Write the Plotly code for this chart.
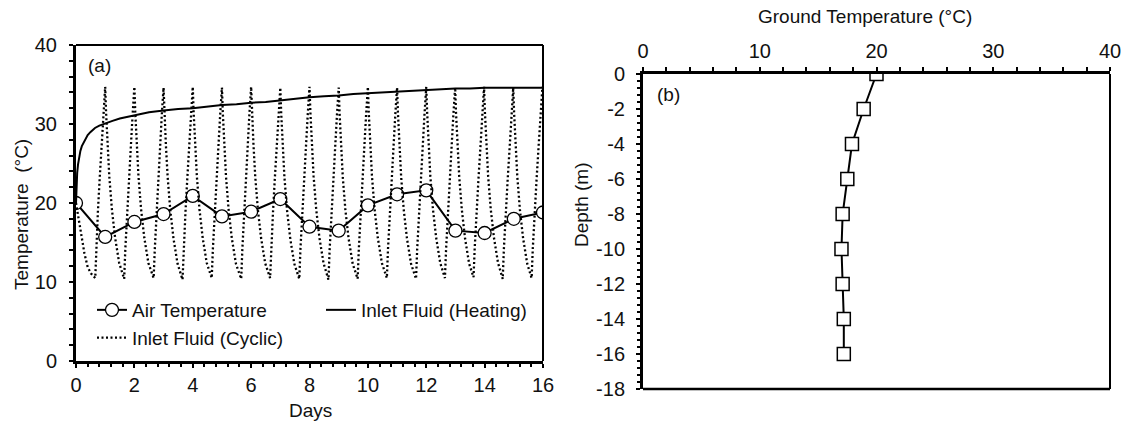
import plotly.graph_objects as go

W, H = 1128, 429

# ---------------- data (a) ----------------
air_days = list(range(17))
air_temp = [20.0, 15.7, 17.6, 18.6, 20.9, 18.3, 18.9, 20.5, 17.0, 16.5, 19.7, 21.1, 21.6, 16.5, 16.2, 18.0, 18.8]

heat_days = [0, 0.02, 0.04, 0.07, 0.1, 0.15, 0.2, 0.3, 0.4, 0.5, 0.65, 0.8, 1.0, 1.25, 1.5, 1.75, 2.0,
             2.5, 3.0, 3.5, 4.0, 4.5, 5.0, 5.5, 6.0, 6.5, 7.0, 7.5, 8.0, 8.5, 9.0, 9.5, 10.0, 10.5,
             11.0, 11.5, 12.0, 12.5, 13.0, 13.5, 14.0, 14.5, 15.0, 15.5, 16.0]
heat_temp = [20.0, 22.5, 23.8, 24.9, 25.7, 26.6, 27.2, 28.0, 28.6, 29.0, 29.5, 29.8, 30.1, 30.4, 30.7, 30.9, 31.1,
             31.5, 31.7, 31.9, 32.0, 32.2, 32.4, 32.5, 32.7, 32.8, 33.0, 33.2, 33.4, 33.5, 33.6, 33.8, 33.9, 34.0,
             34.1, 34.2, 34.3, 34.4, 34.5, 34.5, 34.6, 34.6, 34.6, 34.6, 34.6]

cyc_days = [
    0.00, 0.05, 0.11, 0.17, 0.29, 0.40, 0.51, 0.66, 0.69, 0.75, 0.81, 0.88, 0.94, 1.00,
    1.03, 1.08, 1.14, 1.23, 1.34, 1.48, 1.65, 1.69, 1.75, 1.81, 1.88, 1.94, 2.00,
    2.03, 2.08, 2.14, 2.23, 2.34, 2.48, 2.66, 2.70, 2.76, 2.82, 2.88, 2.94, 3.00,
    3.03, 3.08, 3.14, 3.23, 3.34, 3.48, 3.65, 3.69, 3.75, 3.81, 3.88, 3.94, 4.00,
    4.03, 4.08, 4.14, 4.23, 4.34, 4.48, 4.65, 4.69, 4.75, 4.81, 4.88, 4.94, 5.00,
    5.03, 5.08, 5.14, 5.23, 5.34, 5.48, 5.66, 5.70, 5.76, 5.82, 5.88, 5.94, 6.00,
    6.03, 6.08, 6.14, 6.23, 6.34, 6.48, 6.65, 6.69, 6.75, 6.81, 6.88, 6.94, 7.00,
    7.03, 7.08, 7.14, 7.23, 7.34, 7.48, 7.65, 7.69, 7.75, 7.81, 7.88, 7.94, 8.00,
    8.03, 8.08, 8.14, 8.23, 8.34, 8.48, 8.65, 8.69, 8.75, 8.81, 8.88, 8.94, 9.00,
    9.03, 9.08, 9.14, 9.23, 9.34, 9.48, 9.65, 9.69, 9.75, 9.81, 9.88, 9.94, 10.00,
    10.03, 10.08, 10.14, 10.23, 10.34, 10.48, 10.65, 10.69, 10.75, 10.81, 10.88, 10.94, 11.00,
    11.03, 11.08, 11.14, 11.23, 11.34, 11.48, 11.65, 11.69, 11.75, 11.81, 11.88, 11.94, 12.00,
    12.03, 12.08, 12.14, 12.23, 12.34, 12.48, 12.64, 12.68, 12.74, 12.80, 12.87, 12.93, 12.99,
    13.02, 13.07, 13.13, 13.22, 13.33, 13.47, 13.62, 13.66, 13.72, 13.79, 13.86, 13.92, 13.98,
    14.01, 14.06, 14.12, 14.21, 14.32, 14.46, 14.62, 14.66, 14.72, 14.79, 14.86, 14.92, 14.98,
    15.01, 15.06, 15.12, 15.21, 15.32, 15.46, 15.61, 15.65, 15.71, 15.78, 15.85, 15.92, 15.98,
]
cyc_temp = [
    20.0, 18.9, 17.6, 15.8, 13.6, 11.9, 11.1, 10.5, 14.2, 18.9, 23.0, 27.2, 31.2, 34.7,
    31.5, 27.4, 23.4, 19.2, 15.6, 12.4, 10.4, 14.2, 18.9, 23.0, 27.2, 31.2, 34.7,
    31.5, 27.4, 23.4, 19.2, 15.6, 12.4, 10.5, 14.2, 18.9, 23.0, 27.2, 31.2, 34.6,
    31.4, 27.3, 23.3, 19.1, 15.5, 12.3, 10.3, 14.1, 18.8, 22.9, 27.1, 31.1, 34.7,
    31.5, 27.4, 23.4, 19.2, 15.6, 12.4, 10.5, 14.2, 18.9, 23.0, 27.2, 31.2, 34.6,
    31.4, 27.3, 23.3, 19.1, 15.5, 12.3, 10.4, 14.2, 18.9, 23.0, 27.2, 31.2, 34.7,
    31.5, 27.4, 23.4, 19.2, 15.6, 12.4, 10.5, 14.2, 18.9, 23.0, 27.2, 31.2, 34.6,
    31.4, 27.3, 23.3, 19.1, 15.5, 12.3, 10.4, 14.2, 18.9, 23.0, 27.2, 31.2, 34.7,
    31.5, 27.4, 23.4, 19.2, 15.6, 12.4, 10.3, 14.1, 18.8, 22.9, 27.1, 31.1, 34.6,
    31.4, 27.3, 23.3, 19.1, 15.5, 12.3, 10.4, 14.2, 18.9, 23.0, 27.2, 31.2, 34.7,
    31.5, 27.4, 23.4, 19.2, 15.6, 12.4, 10.5, 14.2, 18.9, 23.0, 27.2, 31.2, 34.6,
    31.4, 27.3, 23.3, 19.1, 15.5, 12.3, 10.4, 14.2, 18.9, 23.0, 27.2, 31.2, 34.7,
    31.5, 27.4, 23.4, 19.2, 15.6, 12.4, 10.5, 14.2, 18.9, 23.0, 27.2, 31.2, 34.6,
    31.4, 27.3, 23.3, 19.1, 15.5, 12.3, 10.6, 14.3, 19.0, 23.1, 27.3, 31.3, 34.7,
    31.5, 27.4, 23.4, 19.2, 15.6, 12.4, 10.4, 14.2, 18.9, 23.0, 27.2, 31.2, 34.6,
    31.4, 27.3, 23.3, 19.1, 15.5, 12.3, 10.5, 14.2, 18.9, 23.0, 27.2, 31.2, 34.7,
]

# ---------------- data (b) ----------------
depth = [0, -2, -4, -6, -8, -10, -12, -14, -16]
ground_temp = [20.0, 18.9, 17.9, 17.5, 17.1, 17.0, 17.1, 17.2, 17.2]

depth_tickvals = [0, -2, -4, -6, -8, -10, -12, -14, -16, -18]
depth_ticktext = ["0", "-2", "-4", "-6", "-8", "-10", "-12", "-14", "-16", "-18"]

FONT = "Liberation Sans, Arial, sans-serif"
TXT = "#111111"
FS = 19
TFS = 20

fig = go.Figure()
fig.add_trace(go.Scatter(
    x=air_days, y=air_temp, mode="lines+markers", name="Air Temperature",
    line=dict(color="black", width=2),
    marker=dict(symbol="circle", size=13, color="white", line=dict(color="black", width=1.3)),
    legend="legend", xaxis="x", yaxis="y"))
fig.add_trace(go.Scatter(
    x=cyc_days, y=cyc_temp, mode="lines", name="Inlet Fluid (Cyclic)",
    line=dict(color="black", width=2.3, dash="2px,2.5px"),
    legend="legend", xaxis="x", yaxis="y"))
fig.add_trace(go.Scatter(
    x=heat_days, y=heat_temp, mode="lines", name="Inlet Fluid (Heating)",
    line=dict(color="black", width=2),
    legend="legend2", xaxis="x", yaxis="y"))
fig.add_trace(go.Scatter(
    x=ground_temp, y=depth, mode="lines+markers", name="Ground",
    line=dict(color="black", width=2),
    marker=dict(symbol="square", size=13, color="white", line=dict(color="black", width=1.5)),
    showlegend=False, xaxis="x2", yaxis="y2"))

def px_x(p):
    return p / W

def px_y(p):
    return 1 - p / H

tickfont = dict(family=FONT, size=TFS, color=TXT)
common = dict(showgrid=False, zeroline=False, linecolor="black", tickcolor="black",
              tickfont=tickfont, automargin=False)

dom_x1 = [px_x(76), px_x(543)]
dom_y1 = [px_y(361), px_y(45)]
dom_x2 = [px_x(643), px_x(1110)]
dom_y2 = [px_y(389), px_y(74)]

fig.update_layout(
    width=W, height=H, margin=dict(l=0, r=0, t=0, b=0),
    paper_bgcolor="white", plot_bgcolor="white",
    font=dict(family=FONT, size=FS, color=TXT),
    xaxis=dict(domain=dom_x1, range=[0, 16], anchor="y", tick0=0, dtick=2,
               ticks="outside", ticklen=4, tickwidth=2, showline=True, linewidth=3,
               minor=dict(ticks="outside", dtick=0.4, ticklen=3, tickwidth=1.5, tickcolor="black"),
               ticklabelstandoff=0, **common),
    yaxis=dict(domain=dom_y1, range=[0, 40], anchor="x", tick0=0, dtick=10,
               ticks="outside", ticklen=4, tickwidth=2, showline=True, linewidth=3,
               minor=dict(ticks="outside", dtick=2, ticklen=4, tickwidth=1.5, tickcolor="black"),
               ticklabelstandoff=8, **common),
    xaxis3=dict(overlaying="x", anchor="y", range=[0, 16], tick0=0, dtick=2, ticks="inside",
                ticklen=4, tickwidth=2, showticklabels=False, showline=False, **common),
    yaxis3=dict(overlaying="y", anchor="x", range=[0, 40], tick0=0, dtick=10, ticks="inside",
                ticklen=4, tickwidth=2, showticklabels=False, showline=False, **common),
    xaxis2=dict(domain=dom_x2, range=[0, 40], anchor="y2", side="top", tick0=0, dtick=10,
                ticks="outside", ticklen=4, tickwidth=2, showline=True, linewidth=3,
                minor=dict(ticks="outside", dtick=2, ticklen=4, tickwidth=1.5, tickcolor="black"),
                ticklabelstandoff=1, **common),
    yaxis2=dict(domain=dom_y2, range=[-18, 0], anchor="x2",
                tickmode="array", tickvals=depth_tickvals, ticktext=depth_ticktext,
                ticks="outside", ticklen=4, tickwidth=2, showline=True, linewidth=3,
                minor=dict(ticks="outside", tick0=0, dtick=0.4, ticklen=3, tickwidth=1.5, tickcolor="black"),
                ticklabelstandoff=7, **common),
    xaxis4=dict(overlaying="x2", anchor="y2", side="top", range=[0, 40], tick0=0, dtick=10,
                ticks="inside", ticklen=4, tickwidth=2, showticklabels=False, showline=False, **common),
    yaxis4=dict(overlaying="y2", anchor="x2", range=[-18, 0], tick0=0, dtick=2,
                ticks="inside", ticklen=4, tickwidth=2, showticklabels=False, showline=False, **common),
    legend=dict(x=px_x(92), y=px_y(291), xanchor="left", yanchor="top",
                bgcolor="rgba(0,0,0,0)", borderwidth=0, tracegroupgap=0,
                font=dict(family=FONT, size=FS, color=TXT)),
    legend2=dict(x=px_x(321), y=px_y(291), xanchor="left", yanchor="top",
                 bgcolor="rgba(0,0,0,0)", borderwidth=0,
                 font=dict(family=FONT, size=FS, color=TXT)),
)

# frames (top/right of (a), right/bottom of (b))
shapes = [
    dict(type="line", xref="paper", yref="paper", x0=dom_x1[0], x1=dom_x1[1], y0=dom_y1[1], y1=dom_y1[1],
         line=dict(color="black", width=2)),
    dict(type="line", xref="paper", yref="paper", x0=dom_x1[1], x1=dom_x1[1], y0=dom_y1[0], y1=dom_y1[1],
         line=dict(color="black", width=2)),
    dict(type="line", xref="paper", yref="paper", x0=dom_x2[1], x1=dom_x2[1], y0=dom_y2[0], y1=dom_y2[1],
         line=dict(color="black", width=2)),
    dict(type="line", xref="paper", yref="paper", x0=dom_x2[0], x1=dom_x2[1], y0=dom_y2[0], y1=dom_y2[0],
         line=dict(color="black", width=2.5)),
]
fig.update_layout(shapes=shapes)

def ann(text, x, y, angle=0):
    return dict(text=text, x=px_x(x), y=px_y(y), xref="paper", yref="paper",
                xanchor="center", yanchor="middle", showarrow=False, textangle=angle,
                font=dict(family=FONT, size=FS, color=TXT))

fig.update_layout(annotations=[
    ann("Days", 310, 410),
    ann("Temperature\u00a0 (°C)", 21, 215, -90),
    ann("Ground Temperature (°C)", 865, 17),
    ann("Depth (m)", 582, 205, -90),
    ann("(a)", 99.5, 65.5),
    ann("(b)", 668.5, 94.5),
])

fig.write_html("out.html")
